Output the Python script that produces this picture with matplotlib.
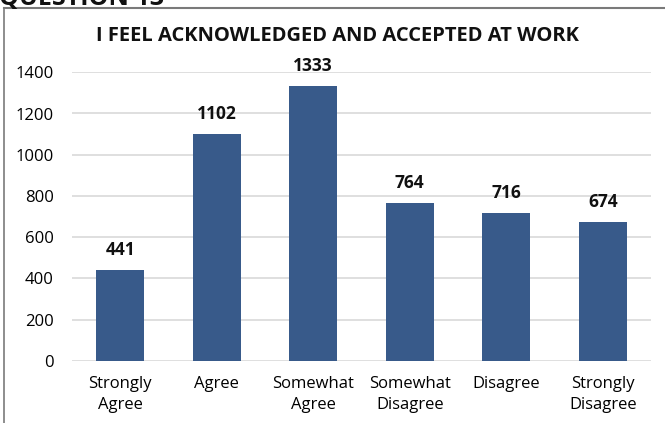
import matplotlib.pyplot as plt
from matplotlib.lines import Line2D

categories = ['Strongly\nAgree', 'Agree', 'Somewhat\nAgree', 'Somewhat\nDisagree', 'Disagree', 'Strongly\nDisagree']
counts = [441, 1102, 1333, 764, 716, 674]
yticks = [0, 200, 400, 600, 800, 1000, 1200, 1400]

plt.rcParams['font.family'] = ['Open Sans', 'DejaVu Sans']

fig = plt.figure(figsize=(6.65, 4.23), dpi=100)
ax = fig.add_axes([72 / 665, 1 - 360.7 / 423, 579 / 665, 288.4 / 423])

bars = ax.bar(range(len(categories)), counts, width=0.5, color='#385A8A', zorder=3)
for i, v in enumerate(counts):
    ax.annotate(str(v), (i, v), xytext=(0, 8), textcoords='offset points',
                ha='center', va='bottom', fontsize=12.5, fontweight='bold', color='#111111')

ax.set_ylim(0, 1400)
ax.set_xlim(-0.5, len(categories) - 0.5)
ax.set_yticks(yticks)
ax.set_xticks(range(len(categories)))
ax.set_xticklabels(categories, fontsize=12, linespacing=1.45)
ax.tick_params(axis='y', labelsize=12, length=0, pad=13)
ax.tick_params(axis='x', length=0, pad=11)
ax.yaxis.grid(True, color='#D9D9D9', linewidth=1.2, zorder=0)
for s in ax.spines.values():
    s.set_visible(False)

# chart title and the frame around the chart
fig.text(338 / 665, 1 - 36 / 423, 'I FEEL ACKNOWLEDGED AND ACCEPTED AT WORK',
         ha='center', va='center', fontsize=14.5, fontweight='bold', color='#111111')
fig.text(-0.002, 1 - 5 / 423, 'QUESTION 13', ha='left', va='baseline',
         fontsize=18, fontweight='bold', color='#111111')
fig.add_artist(Line2D([4 / 665, 1], [1 - 8 / 423] * 2, color='#7A7A7A', linewidth=1.5,
                      transform=fig.transFigure))
fig.add_artist(Line2D([4 / 665] * 2, [0, 1 - 8 / 423], color='#7A7A7A', linewidth=1.2,
                      transform=fig.transFigure))

fig.savefig('out.png', dpi=100)
